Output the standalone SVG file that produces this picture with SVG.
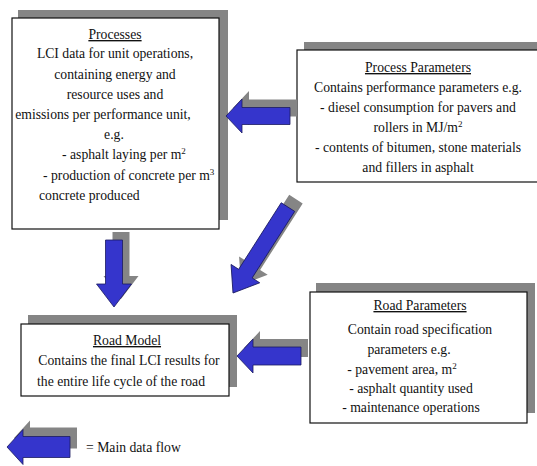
<svg xmlns="http://www.w3.org/2000/svg" width="537" height="466" viewBox="0 0 537 466">
<style>
.c{text-anchor:middle}
.u{text-decoration:underline}
.sh{fill:#858585}
.bx{fill:#fff;stroke:#111;stroke-width:1.2}
.arr{fill:#3535cc;stroke:#1a1a60;stroke-width:0.8}
.as{fill:#858585}
.sup{font-size:9px}
</style>
<rect width="537" height="466" fill="#fff"/>
<g font-family="Liberation Serif, Times New Roman, serif" font-size="13.7" fill="#111">
<g id="processes">
<rect class="sh" x="18" y="10" width="210" height="210"/>
<rect class="bx" x="12" y="18" width="207" height="211"/>
<text class="c u" x="115" y="39">Processes</text>
<text class="c" x="115" y="58">LCI data for unit operations,</text>
<text class="c" x="115" y="79">containing energy and</text>
<text class="c" x="115" y="99">resource uses and</text>
<text class="c" x="103" y="119">emissions per performance unit,</text>
<text class="c" x="114" y="139">e.g.</text>
<text x="62" y="159">- asphalt laying per m<tspan class="sup" dy="-5">2</tspan></text>
<text x="43" y="180">- production of concrete per m<tspan class="sup" dy="-5">3</tspan></text>
<text x="39" y="200">concrete produced</text>
</g>
<g id="process-parameters">
<rect class="sh" x="304" y="42" width="240" height="132"/>
<rect class="bx" x="297" y="50" width="245" height="132"/>
<text class="c u" x="418" y="72">Process Parameters</text>
<text class="c" x="418" y="92">Contains performance parameters e.g.</text>
<text class="c" x="418" y="112">- diesel consumption for pavers and</text>
<text class="c" x="418" y="132">rollers in MJ/m<tspan class="sup" dy="-5">2</tspan></text>
<text class="c" x="418" y="152">- contents of bitumen, stone materials</text>
<text class="c" x="418" y="172">and fillers in asphalt</text>
</g>
<g id="road-model">
<rect class="sh" x="28" y="315" width="209" height="72"/>
<rect class="bx" x="21" y="324" width="208" height="72"/>
<text class="c u" x="127" y="345">Road Model</text>
<text class="c" x="129" y="365">Contains the final LCI results for</text>
<text class="c" x="121" y="386">the entire life cycle of the road</text>
</g>
<g id="road-parameters">
<rect class="sh" x="316" y="283" width="219" height="130"/>
<rect class="bx" x="310" y="292" width="217" height="131"/>
<text class="c u" x="420" y="310">Road Parameters</text>
<text class="c" x="420" y="334">Contain road specification</text>
<text class="c" x="409" y="354">parameters e.g.</text>
<text class="c" x="402" y="374">- pavement area, m<tspan class="sup" dy="-5">2</tspan></text>
<text class="c" x="411" y="393">- asphalt quantity used</text>
<text class="c" x="411" y="412">- maintenance operations</text>
</g>
<g id="connectors">
<polygon class="as" transform="translate(233,108)" points="0,0 16,-17 16,-8.5 64,-8.5 64,8.5 16,8.5 16,17"/>
<polygon class="arr" transform="translate(226,116)" points="0,0 16,-17 16,-8.5 64,-8.5 64,8.5 16,8.5 16,17"/>
<polygon class="as" transform="translate(241,285) rotate(-57.4)" points="0,0 23,-17 23,-8 102,-8 102,8 23,8 23,17"/>
<polygon class="arr" transform="translate(233,293) rotate(-57.4)" points="0,0 23,-17 23,-8 102,-8 102,8 23,8 23,17"/>
<polygon class="as" transform="translate(121,299) rotate(-90)" points="0,0 23,-17.5 23,-8.5 67,-8.5 67,8.5 23,8.5 23,17.5"/>
<polygon class="arr" transform="translate(114,307) rotate(-90)" points="0,0 23,-17.5 23,-8.5 67,-8.5 67,8.5 23,8.5 23,17.5"/>
<polygon class="as" transform="translate(244,348)" points="0,0 16,-17 16,-9 64,-9 64,9 16,9 16,17"/>
<polygon class="arr" transform="translate(237,356)" points="0,0 16,-17 16,-9 64,-9 64,9 16,9 16,17"/>
</g>
<g id="legend">
<polygon class="as" transform="translate(14,438)" points="0,0 16,-17.5 16,-10.5 63,-10.5 63,10.5 16,10.5 16,17.5"/>
<polygon class="arr" transform="translate(7,447)" points="0,0 16,-17.5 16,-10.5 63,-10.5 63,10.5 16,10.5 16,17.5"/>
<text x="86" y="452">= Main data flow</text>
</g>
</g>
</svg>
